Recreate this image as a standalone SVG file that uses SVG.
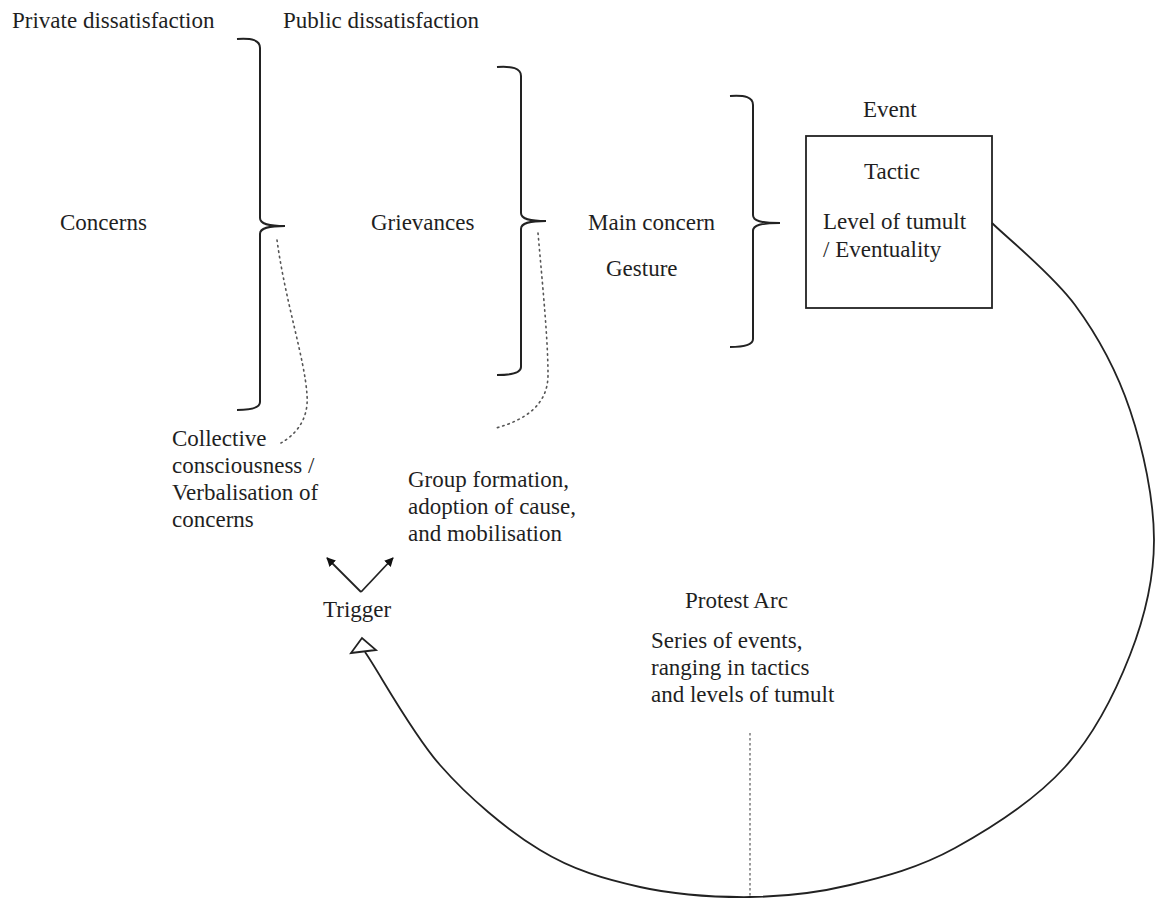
<svg xmlns="http://www.w3.org/2000/svg" width="1155" height="898" viewBox="0 0 1155 898">
<defs>
<style>
text{font-family:"Liberation Serif","Times New Roman",serif;font-size:23px;fill:#1f1f1f}
.brace{fill:none;stroke:#222;stroke-width:2}
.dots{fill:none;stroke:#555;stroke-width:1.6;stroke-dasharray:1.5 4;stroke-linecap:round}
.dash{fill:none;stroke:#666;stroke-width:1.3;stroke-dasharray:2.5 2.5}
.line{fill:none;stroke:#222;stroke-width:1.8}
</style>
<marker id="ah" viewBox="0 0 10 10" refX="9" refY="5" markerWidth="9" markerHeight="9" markerUnits="userSpaceOnUse" orient="auto">
<path d="M0,0 L10,5 L0,10 z" fill="#111"/>
</marker>
</defs>
<rect width="1155" height="898" fill="#fff"/>

<g id="header-private"><text x="12" y="28">Private dissatisfaction</text></g>
<g id="header-public"><text x="283" y="28">Public dissatisfaction</text></g>

<g id="concerns"><text x="60" y="230">Concerns</text></g>
<g id="brace-concerns"><path class="brace" d="M237,39 C252,38 260,40 260,48 L260,218 C260,224 268,226 285,226 C268,226 260,228 260,234 L260,402 C260,408 252,410 237,410"/></g>

<g id="grievances"><text x="371" y="230">Grievances</text></g>
<g id="brace-grievances"><path class="brace" d="M497,67 C512,66 521,68 521,76 L521,213 C521,219 529,221 546,221 C529,221 521,223 521,229 L521,367 C521,373 512,375 497,375"/></g>

<g id="main-concern"><text x="588" y="230">Main concern</text><text x="606" y="276">Gesture</text></g>
<g id="brace-main"><path class="brace" d="M730,96 C745,95 753,97 753,105 L753,215 C753,221 761,223 780,223 C761,223 753,225 753,231 L753,339 C753,345 745,347 730,347"/></g>

<g id="event">
<text x="863" y="117">Event</text>
<rect x="806" y="136" width="186" height="172" fill="none" stroke="#222" stroke-width="1.8"/>
<text x="864" y="179">Tactic</text>
<text x="823" y="229">Level of tumult</text>
<text x="823" y="257">/ Eventuality</text>
</g>

<g id="collective">
<text x="172" y="446">Collective</text>
<text x="172" y="473">consciousness /</text>
<text x="172" y="500">Verbalisation of</text>
<text x="172" y="527">concerns</text>
</g>

<g id="group-formation">
<text x="408" y="487">Group formation,</text>
<text x="408" y="514">adoption of cause,</text>
<text x="408" y="541">and mobilisation</text>
</g>

<g id="trigger"><text x="323" y="617">Trigger</text></g>

<g id="protest-arc">
<text x="685" y="608">Protest Arc</text>
<text x="651" y="648">Series of events,</text>
<text x="651" y="675">ranging in tactics</text>
<text x="651" y="702">and levels of tumult</text>
</g>

<g id="connectors">
<path class="dots" d="M277,240 C285,300 305,360 307,395 C309,420 295,435 281,443"/>
<path class="dots" d="M538,233 C543,290 548,340 548,375 C548,405 525,420 496,428"/>
<line class="dash" x1="750" y1="733" x2="750" y2="896"/>
<line class="line" x1="361" y1="592" x2="327" y2="558" marker-end="url(#ah)"/>
<line class="line" x1="361" y1="592" x2="393" y2="558" marker-end="url(#ah)"/>
<path class="line" d="M992,223 C1005.8,236.7 1052,273.8 1075,305 C1098,336.2 1116.8,370.8 1130,410 C1143.2,449.2 1154,499.2 1154,540 C1154,580.8 1144.8,617.2 1130,655 C1115.2,692.8 1094.2,734.8 1065,767 C1035.8,799.2 990.8,828.3 955,848 C919.2,867.7 884.2,876.8 850,885 C815.8,893.2 785,896.7 750,897 C715,897.3 675,894.8 640,887 C605,879.2 573.3,870.3 540,850 C506.7,829.7 469,798 440,765 C411,732 378.3,670.8 365,652"/>
<polygon points="362,638 351,653 376,650" fill="#fff" stroke="#222" stroke-width="1.8" stroke-linejoin="miter"/>
</g>
</svg>
